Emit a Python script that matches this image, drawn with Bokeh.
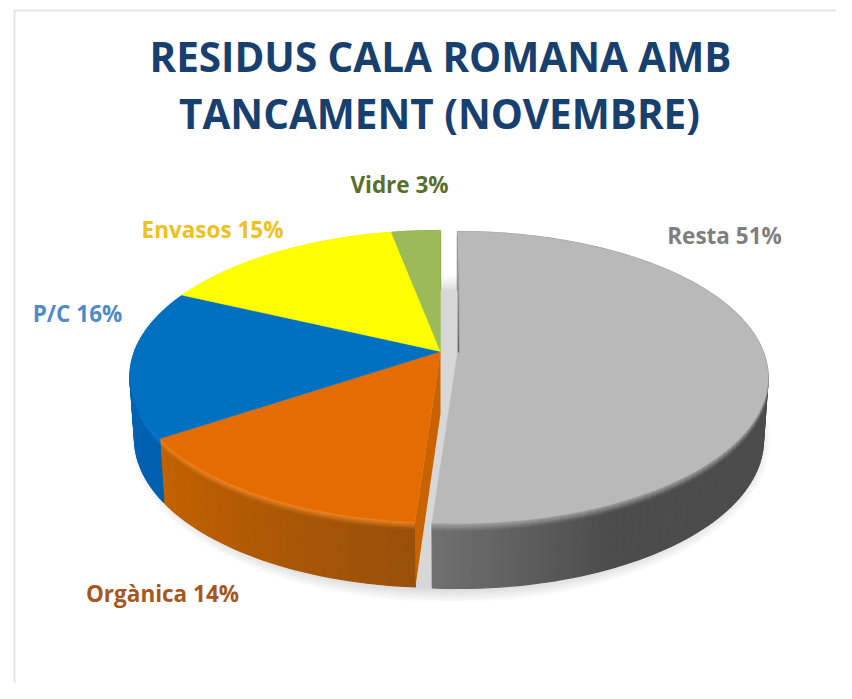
import numpy as np
from bokeh.plotting import figure
from bokeh.core.properties import value
from bokeh.embed import file_html
from bokeh.resources import INLINE

# ---- data ----
TITLE_LINES = ["RESIDUS CALA ROMANA AMB", "TANCAMENT (NOVEMBRE)"]
SLICES = ["Resta", "Orgànica", "P/C", "Envasos", "Vidre"]
SHARES = [51.1, 14.5, 16.4, 15.0, 3.0]
LABELS = ["Resta 51%", "Orgànica 14%", "P/C 16%", "Envasos 15%", "Vidre 3%"]

# ---- styles and layout ----
TOP = ["#B9B9B9", "#E46C00", "#0070C0", "#FFFF00", "#9BBB59"]
BEVEL = ["#A8A8A8", "#F58A2A", "#0F80DA", "#FFFF00", "#9BBB59"]
SIDE_A = ["#707070", "#C46200", "#0068BA", "#C8C800", "#7A9A40"]
SIDE_B = ["#4C4C4C", "#98500A", "#0060AE", "#C8C800", "#7A9A40"]
LABEL_COL = ["#7F7F7F", "#A8561E", "#4F8BCB", "#F0C020", "#5A6E2E"]
LABEL_XY = [(724, 235), (162, 593), (77, 313), (212, 229), (399, 184)]
TITLE_XY = [(440, 56), (439, 113)]
EXPLODE = [(16, 1), (-1, 0), (-1, 0), (-1, 0), (-1, 0)]
TITLE_FONT, TITLE_PX = "Open Sans", "40.4px"
LABEL_FONT, LABEL_PX = "Open Sans", "22.5px"

CX, CY, B, A, K = 441.0, 351.0, 306.0, 141.7, 0.171

W, H = 836, 683
p = figure(width=W, height=H, x_range=(0, W), y_range=(H, 0),
           output_backend="svg", toolbar_location=None, min_border=0,
           outline_line_color=None, background_fill_color="white")
p.axis.visible = False
p.grid.visible = False


def hex2rgb(c):
    return np.array([int(c[i:i + 2], 16) for i in (1, 3, 5)], float)


def mix(c1, c2, t):
    r = hex2rgb(c1) * (1 - t) + hex2rgb(c2) * t
    return "#%02x%02x%02x" % tuple(int(round(x)) for x in r)


def top_pt(theta, r=1.0):
    """theta in radians clockwise from 12 o'clock, on the pie disc, in perspective."""
    u, v = r * np.sin(theta), r * np.cos(theta)
    w = 1 + K * v
    return CX + B * u / w, CY - A * v / w


def drop(x, y, theta, r=1.0, f=1.0):
    v = r * np.cos(theta)
    depth = 62 - 3 * v
    return CX + (x - CX) * (1 - 0.015 * f), y + depth * f


# slice angles come from the shares
fr = np.array(SHARES) / sum(SHARES) * 2 * np.pi
ends = np.cumsum(fr)
starts = ends - fr

# soft shadow beneath the pie
th = np.linspace(0, 2 * np.pi, 181)
for e in (14, 12, 10, 8, 6, 4, 2, 0):
    x, y = top_pt(th)
    x, y = drop(x, y, th)
    xs = CX + 8 + (x - CX) * (1 + e / 310.0) + 1
    ym = (y.min() + y.max()) / 2
    ys = ym + (y - ym) * (1 + e / 150.0) + 1
    p.patch(xs, ys, fill_color="#000000", fill_alpha=0.02, line_color=None)

# cylinder wall strips
BANDS = [0, 0.025, 0.05, 0.075, 0.1, 0.13, 1.0]
for s0, s1, (dx, dy), top, bev, a, b in zip(starts, ends, EXPLODE, TOP, BEVEL, SIDE_A, SIDE_B):
    n = max(2, int((s1 - s0) / np.radians(1.5)))
    ang = np.linspace(s0, s1, n + 1)
    xs_all, ys_all, cols = [], [], []
    for t0, t1 in zip(ang[:-1], ang[1:]):
        tm = (t0 + t1) / 2
        if s0 < 0.01:  # big slice: lighter close to its cut, dark beyond
            t = np.clip((s1 - tm) / 0.5, 0, 1)
        else:
            t = 1 - np.clip((tm - s0) / (s1 - s0), 0, 1)
        side = mix(a, b, t)
        pair = np.array([t0, t1])
        xa, ya = top_pt(pair)
        for f0, f1 in zip(BANDS[:-1], BANDS[1:]):
            xu, yu = drop(xa, ya, pair, f=f0)
            xl, yl = drop(xa, ya, pair, f=f1)
            fm = (f0 + f1) / 2
            col = mix(bev, side, min(fm / 0.13, 1.0)) if f1 < 1 else side
            xs_all.append(list(np.r_[xu, xl[::-1]] + dx))
            ys_all.append(list(np.r_[yu, yl[::-1]] + dy))
            cols.append(col)
    p.patches(xs_all, ys_all, fill_color=cols, line_color=cols, line_width=1.3)

# wall of the second slice, exposed by the cut
i = 1
xr, yr = top_pt(starts[i])
xrb, yrb = drop(xr, yr, starts[i])
xa, ya = top_pt(starts[i], 0.0)
xab, yab = drop(xa, ya, starts[i], 0.0)
p.patch(np.array([xa, xr, xrb, xab]) + EXPLODE[i][0],
        np.array([ya, yr, yrb, yab]) + EXPLODE[i][1],
        fill_color="#C96200", line_color=None)

# top faces
for s0, s1, (dx, dy), col in zip(starts, ends, EXPLODE, TOP):
    ang = np.linspace(s0, s1, max(3, int((s1 - s0) / np.radians(1))))
    x, y = top_pt(ang)
    xc, yc = top_pt(s0, 0.0)
    p.patch(np.r_[xc, x] + dx, np.r_[yc, y] + dy, fill_color=col, line_color=col, line_width=0.4)

# dark seam at the start of the first slice
rr = np.linspace(0.80, 0.0, 12)
for r0, r1, al in zip(rr[:-1], rr[1:], np.linspace(0.02, 0.6, 11)):
    x0, y0 = top_pt(starts[0], r0)
    x1, y1 = top_pt(starts[0], r1)
    p.line([x0 + EXPLODE[0][0] + 1, x1 + EXPLODE[0][0] + 1], [y0 + EXPLODE[0][1], y1 + EXPLODE[0][1]],
           line_color="#303030", line_alpha=al, line_width=1.5)

# chart-area frame
p.line([14, 14, W], [H, 10, 10], line_color="#E4E4E4", line_width=2)

# texts
for (tx, ty), line in zip(TITLE_XY, TITLE_LINES):
    p.text([tx], [ty], text=[line], text_font=value(TITLE_FONT), text_font_style="bold",
           text_font_size=TITLE_PX, text_color="#17406F", text_align="center",
           text_baseline="alphabetic")
for (tx, ty), lab, c in zip(LABEL_XY, LABELS, LABEL_COL):
    p.text([tx], [ty], text=[lab], text_font=value(LABEL_FONT), text_font_style="bold",
           text_font_size=LABEL_PX, text_color=c, text_align="center",
           text_baseline="alphabetic")

open("out.html", "w").write(file_html(p, INLINE))
